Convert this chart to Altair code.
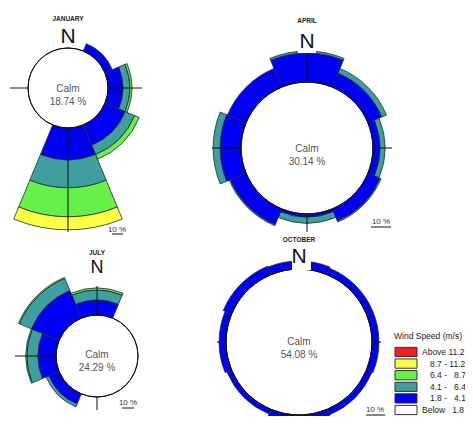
import math
import altair as alt
import pandas as pd

# ---------------- data ----------------
directions = ["N", "NE", "E", "SE", "S", "SW", "W", "NW"]
speed_bins = ["Above 11.2", "8.7 - 11.2", "6.4 - 8.7", "4.1 - 6.4", "1.8 - 4.1", "Below 1.8"]
bin_colors = ["#EE2222", "#FFFF44", "#66F04A", "#3F9E9E", "#0000F2", "#FFFFFF"]
legend_labels = ["Above 11.2", "8.7 - 11.2", "6.4 - \u00a0\u00a08.7",
                 "4.1 - \u00a0\u00a06.4", "1.8 - \u00a0\u00a04.1", "Below \u00a0\u00a01.8"]
legend_indent = [0, 1, 1, 1, 1, 0]

months = ["JANUARY", "APRIL", "JULY", "OCTOBER"]
calm_pct = [18.74, 30.14, 24.29, 54.08]

# percent frequency per direction (N, NE, E, SE, S, SW, W, NW)
jan_18_41 = [0, 3.8, 7.1, 10.5, 15.2, 0, 0, 0]
jan_41_64 = [0, 0, 3.3, 4.8, 13.3, 0, 0, 0]
jan_64_87 = [0, 0, 1.0, 2.4, 13.8, 0, 0, 0]
jan_87_112 = [0, 0, 0, 0, 6.2, 0, 0, 0]

apr_18_41 = [13.3, 6.9, 3.2, 6.0, 1.4, 7.8, 9.6, 9.2]
apr_41_64 = [0.9, 2.3, 2.3, 0.5, 2.8, 0.5, 3.2, 0.0]

jul_18_41 = [9.8, 0, 0, 0, 0, 7.2, 11.8, 19.6]
jul_41_64 = [6.5, 0, 0, 0, 0, 2.0, 7.2, 8.5]
jul_64_87 = [1.3, 0, 0, 0, 0, 0, 0.7, 0.7]

oct_18_41 = [6.6, 5.7, 5.7, 4.9, 5.7, 4.1, 5.7, 7.4]

panel_bins = [
    [("1.8 - 4.1", jan_18_41), ("4.1 - 6.4", jan_41_64), ("6.4 - 8.7", jan_64_87), ("8.7 - 11.2", jan_87_112)],
    [("1.8 - 4.1", apr_18_41), ("4.1 - 6.4", apr_41_64)],
    [("1.8 - 4.1", jul_18_41), ("4.1 - 6.4", jul_41_64), ("6.4 - 8.7", jul_64_87)],
    [("1.8 - 4.1", oct_18_41)],
]

# ---------------- layout (pixels, chart coordinates) ----------------
layout = [
    dict(cx=60, cy=80, calm_r=40, px=2.1, cross=(40, 74, 144, 58), title_y=11, n_base=35, n_size=21,
         box=(51, 69, 19, 39), calm_dy=0.5, sc=(109, 222), ul=(104, 115, 226)),
    dict(cx=299, cy=140, calm_r=66, px=2.18, cross=(97, 85, 84, 95), title_y=13, n_base=40, n_size=21,
         box=(290, 308, 23, 45), calm_dy=0.5, sc=(373, 214), ul=(363, 383, 219)),
    dict(cx=89, cy=348, calm_r=41, px=1.53, cross=(70, 41, 54, 82), title_y=245, n_base=265, n_size=18,
         box=(81, 97, 250, 269), calm_dy=-1, sc=(120, 395), ul=(114, 126, 400)),
    dict(cx=291, cy=334, calm_r=73, px=1.22, cross=(82, 82, 82, 82), title_y=232, n_base=255, n_size=21,
         box=(284, 303, 238, 262), calm_dy=-0.5, sc=(367, 402), ul=(358, 377, 407)),
]

FONT = "Liberation Sans, Arial, sans-serif"
color_scale = alt.Scale(domain=speed_bins, range=bin_colors)
theta_scale = alt.Scale(type="linear", domain=[0, 360], range=[0, 2 * math.pi], zero=False, nice=False)
one = pd.DataFrame({"k": [0]})


def seg(x0, y0, x1, y1):
    return alt.Chart(one).mark_rule(color="#111", strokeWidth=1).encode(
        x=alt.value(x0), y=alt.value(y0), x2=alt.value(x1), y2=alt.value(y1))


def make_panel(name, calm, bins, p):
    rows = []
    for i, d in enumerate(directions):
        cum = 0.0
        for b, vals in bins:
            v = vals[i]
            if v > 0:
                rows.append(dict(dir=d, speed=b, t0=i * 45 - 22.5, t1=i * 45 + 22.5, r0=cum, r1=cum + v))
                cum += v
    df = pd.DataFrame(rows)
    C = p["calm_r"] / p["px"]
    rscale = alt.Scale(type="linear", domain=[-C, 100], range=[0, p["px"] * (C + 100)], zero=False, nice=False)
    cx, cy, r = p["cx"], p["cy"], p["calm_r"]
    X = alt.value(cx)
    Y = alt.value(cy)

    sectors = alt.Chart(df).mark_arc(stroke="#1c2c30", strokeWidth=0.8).encode(
        x=X, y=Y,
        theta=alt.Theta("t0:Q", scale=theta_scale, stack=None),
        theta2="t1:Q",
        radius=alt.Radius("r1:Q", scale=rscale),
        radius2="r0:Q",
        color=alt.Color("speed:N", scale=color_scale, legend=None),
    )
    top, right, bottom, left = p["cross"]
    crosses = [
        seg(cx, cy - top, cx, cy - r),
        seg(cx, cy + r, cx, cy + bottom),
        seg(cx - left, cy, cx - r, cy),
        seg(cx + r, cy, cx + right, cy),
    ]

    calm_df = pd.DataFrame([dict(base=0.0, label=f"Calm\n{calm:.2f} %", month=name, n="N", sc="10 %")])
    circle = alt.Chart(calm_df).mark_arc(fill="white", stroke="#111", strokeWidth=1).encode(
        x=X, y=Y, theta=alt.value(0), theta2=alt.value(2 * math.pi),
        radius=alt.Radius("base:Q", scale=rscale))
    calm_txt = alt.Chart(calm_df).mark_text(
        lineBreak="\n", fontSize=10, lineHeight=13, color="#555", font=FONT, baseline="middle"
    ).encode(x=X, y=alt.value(cy + p["calm_dy"]), text="label:N")
    title = alt.Chart(calm_df).mark_text(
        fontSize=6.5, fontWeight="bold", color="#222", font=FONT, baseline="middle"
    ).encode(x=X, y=alt.value(p["title_y"]), text="month:N")
    bx0, bx1, by0, by1 = p["box"]
    nbox = alt.Chart(one).mark_rect(color="white").encode(
        x=alt.value(bx0), x2=alt.value(bx1), y=alt.value(by0), y2=alt.value(by1))
    ntxt = alt.Chart(calm_df).mark_text(
        fontSize=p["n_size"], color="#111", font=FONT, baseline="alphabetic"
    ).encode(x=X, y=alt.value(p["n_base"]), text="n:N")
    sc_txt = alt.Chart(calm_df).mark_text(
        fontSize=8, color="#333", font=FONT, baseline="middle"
    ).encode(x=alt.value(p["sc"][0]), y=alt.value(p["sc"][1]), text="sc:N")
    ux0, ux1, uy = p["ul"]
    sc_ul = seg(ux0, uy, ux1, uy)
    return alt.layer(sectors, *crosses, circle, calm_txt, title, nbox, ntxt, sc_txt, sc_ul)


panels = [make_panel(months[i], calm_pct[i], panel_bins[i], layout[i]) for i in range(4)]

leg_df = pd.DataFrame(dict(speed=speed_bins, label=legend_labels, indent=legend_indent))
yscale = alt.Scale(type="point", domain=speed_bins, range=[344, 402], padding=0)
swatch = alt.Chart(leg_df).mark_point(
    shape="M-1,-0.42L1,-0.42L1,0.42L-1,0.42Z", size=484, filled=True, opacity=1,
    stroke="#333", strokeWidth=1
).encode(x=alt.value(398), y=alt.Y("speed:N", scale=yscale, axis=None),
         color=alt.Color("speed:N", scale=color_scale, legend=None))
leg_lbl_a = alt.Chart(leg_df).transform_filter("datum.indent == 0").mark_text(
    align="left", baseline="middle", fontSize=8.5, color="#222", font=FONT
).encode(x=alt.value(414), y=alt.Y("speed:N", scale=yscale, axis=None), text="label:N")
leg_lbl_b = alt.Chart(leg_df).transform_filter("datum.indent == 1").mark_text(
    align="left", baseline="middle", fontSize=8.5, color="#222", font=FONT
).encode(x=alt.value(422), y=alt.Y("speed:N", scale=yscale, axis=None), text="label:N")
leg_title = alt.Chart(pd.DataFrame({"t": ["Wind Speed (m/s)"]})).mark_text(
    align="left", baseline="middle", fontSize=8.5, color="#222", font=FONT
).encode(x=alt.value(386), y=alt.value(328), text="t:N")

chart = alt.layer(*panels, swatch, leg_lbl_a, leg_lbl_b, leg_title).resolve_scale(
    radius="independent"
).properties(
    width=457, height=408, padding=0, autosize=alt.AutoSizeParams(type="none"),
    background="white"
).configure_view(stroke=None)

chart.save("out.html", embed_options={"renderer": "svg", "actions": False})
